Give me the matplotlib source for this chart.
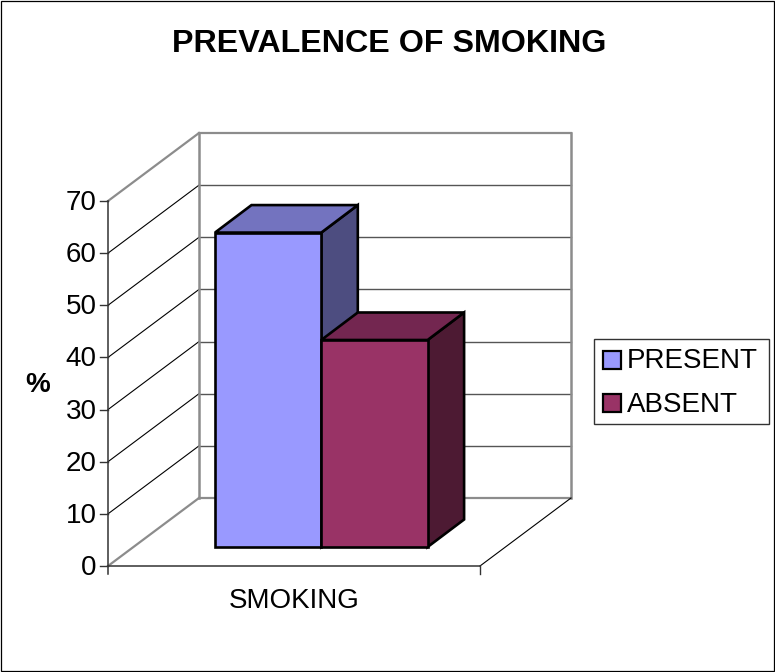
import matplotlib
matplotlib.use('Agg')
import matplotlib.pyplot as plt
from matplotlib.patches import Polygon, Rectangle

title = 'PREVALENCE OF SMOKING'
category = 'SMOKING'
series_names = ['PRESENT', 'ABSENT']
series_values = [60.3, 39.7]
y_ticks = [0, 10, 20, 30, 40, 50, 60, 70]
y_label = '%'

front_colors = ['#9999ff', '#993366']
top_colors = ['#7373bf', '#732650']
side_colors = ['#4d4d80', '#4d1a33']

# the 3d box, in picture pixels
x0, x1 = 108, 480
y0 = 566
dx, dy = 91, -68
px_per_unit = (566 - 201) / 70

bar_x = 215
bar_w = 106.3
bar_base = 547
bar_dx, bar_dy = 36.5, -27.5


def val_y(v):
    return y0 - v * px_per_unit


plt.rcParams['font.family'] = ['Liberation Sans', 'DejaVu Sans']

fig = plt.figure(figsize=(7.75, 6.72), dpi=100)
ax = fig.add_axes([0, 0, 1, 1])
ax.set_xlim(0, 775)
ax.set_ylim(672, 0)
ax.axis('off')

# outer frame
ax.add_patch(Rectangle((1.2, 0.5), 773, 670.6, fill=False, ec='black', lw=0.9, clip_on=False))

grey = '#8c8c8c'
dark = '#333333'

# gridlines on side and back wall
for v in y_ticks[1:-1]:
    y = val_y(v)
    ax.plot([x0, x0 + dx], [y, y + dy], color='black', lw=0.8, zorder=1)
    ax.plot([x0 + dx, x1 + dx], [y + dy, y + dy], color='#555555', lw=1.0, zorder=1)

# walls
top = val_y(70)
ax.plot([x0 + dx, x1 + dx], [top + dy, top + dy], color=grey, lw=1.6, zorder=1)
ax.plot([x0 + dx, x1 + dx], [y0 + dy, y0 + dy], color=grey, lw=1.6, zorder=1)
ax.plot([x0 + dx, x0 + dx], [top + dy, y0 + dy], color=grey, lw=1.8, zorder=1)
ax.plot([x1 + dx, x1 + dx], [top + dy, y0 + dy], color=grey, lw=1.8, zorder=1)
ax.plot([x0, x0 + dx], [top, top + dy], color=grey, lw=1.6, zorder=1)
ax.plot([x0, x0 + dx], [y0, y0 + dy], color=grey, lw=1.6, zorder=1)
ax.plot([x1, x1 + dx], [y0, y0 + dy], color='black', lw=0.8, zorder=1)

# axes and ticks
ax.plot([x0, x0], [top, y0 + 8], color=dark, lw=1.1, zorder=2)
ax.plot([x0, x1], [y0, y0], color=dark, lw=1.1, zorder=2)
ax.plot([x1, x1], [y0, y0 + 8], color=dark, lw=1.0, zorder=2)
for v in y_ticks:
    y = val_y(v)
    ax.plot([x0 - 8, x0], [y, y], color=dark, lw=1.0, zorder=2)
    ax.text(x0 - 11.5, y + 2, str(v), ha='right', va='center', fontsize=20, color='black')

# bars, back to front so that the first bar's side is overlapped properly
for i, (val, front, topc, side) in enumerate(zip(series_values, front_colors, top_colors, side_colors)):
    left = bar_x + i * bar_w
    right = left + bar_w
    ytop = bar_base - val * px_per_unit
    side_pts = [(right, bar_base), (right + bar_dx, bar_base + bar_dy),
                (right + bar_dx, ytop + bar_dy), (right, ytop)]
    top_pts = [(left, ytop), (left + bar_dx, ytop + bar_dy),
               (right + bar_dx, ytop + bar_dy), (right, ytop)]
    z = 3 + i
    ax.add_patch(Polygon(side_pts, fc=side, ec='black', lw=1.9, joinstyle='miter', zorder=z))
    ax.add_patch(Polygon(top_pts, fc=topc, ec='black', lw=1.9, joinstyle='miter', zorder=z))
    ax.add_patch(Rectangle((left, ytop), bar_w, val * px_per_unit, fc=front, ec='black', lw=1.9, zorder=z))

# texts
ax.text(389, 44.5, title, ha='center', va='center', fontsize=23.2, fontweight='bold')
ax.text(294, 601, category, ha='center', va='center', fontsize=20)
ax.text(38, 385, y_label, ha='center', va='center', fontsize=20, fontweight='bold')

# legend
ax.add_patch(Rectangle((593.5, 338.5), 175, 85.5, fc='white', ec='#333333', lw=1.0, zorder=5))
for name, color, y in zip(series_names, front_colors, [359.5, 402.5]):
    ax.add_patch(Rectangle((602.5, y - 9), 18, 18, fc=color, ec='black', lw=1.6, zorder=6))
    ax.text(627, y + 2, name, ha='left', va='center', fontsize=20, zorder=6)

fig.savefig('out.png', dpi=100)
